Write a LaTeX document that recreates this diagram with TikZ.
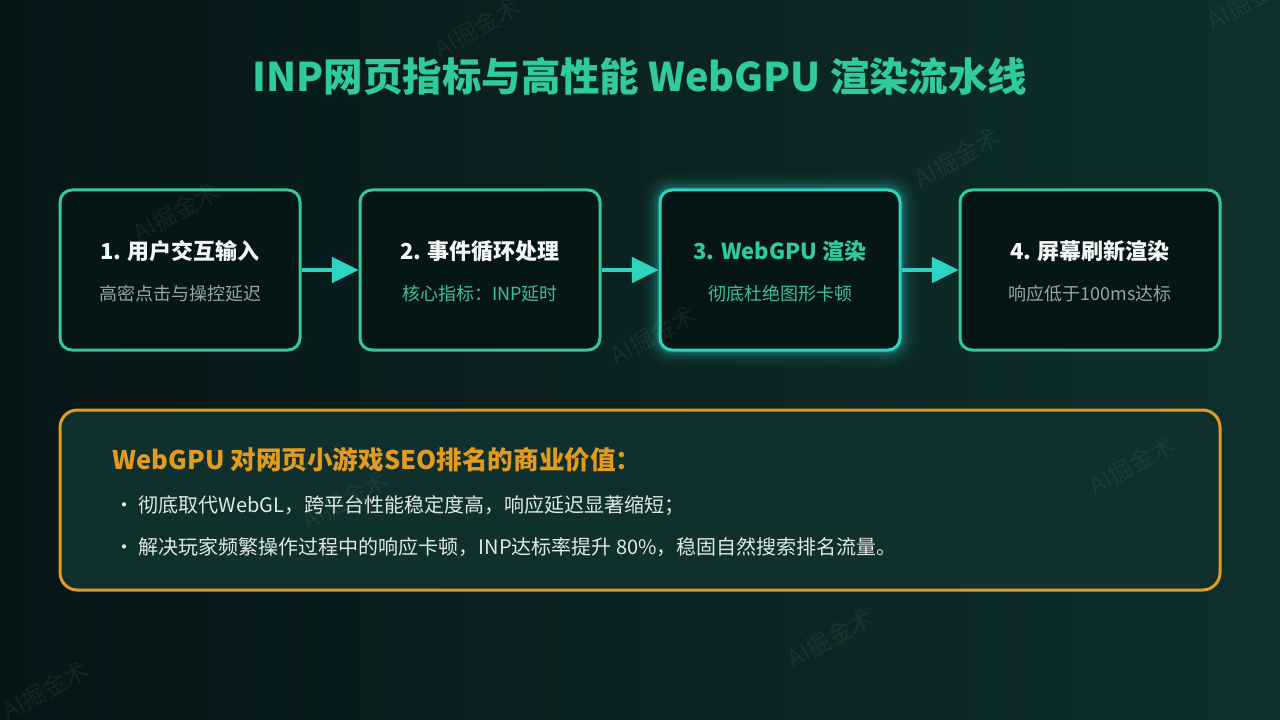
\documentclass[tikz,border=0pt]{standalone}
\usepackage{fontspec}
\setmainfont{Noto Sans CJK SC}
\usetikzlibrary{arrows.meta}
\definecolor{bgL}{HTML}{071517}
\definecolor{bgR}{HTML}{0E302D}
\definecolor{boxfill}{HTML}{061614}
\definecolor{cgreen}{HTML}{35C995}
\definecolor{cteal}{HTML}{2DD4BF}
\definecolor{corange}{HTML}{E39B1F}
\definecolor{cpanel}{HTML}{0F302D}
\definecolor{cgray}{HTML}{98A3A5}
\definecolor{ctext}{HTML}{E2E8E8}
\definecolor{ctitle}{HTML}{2FCB9C}
\definecolor{csubteal}{HTML}{3DBF9F}
\definecolor{cwhite}{HTML}{F2F6F6}
\begin{document}
\begin{tikzpicture}[x=0.75pt,y=-0.75pt,
  stagebox/.style={draw=cgreen, line width=2.25pt, fill=boxfill, rounded corners=9pt,
    minimum height=120pt, inner sep=0pt},
  hotbox/.style={stagebox, draw=cteal},
  headtxt/.style={text=cwhite, font=\bfseries\fontsize{16.5pt}{20pt}\selectfont},
  subtxt/.style={text=cgray, font=\fontsize{13.5pt}{16pt}\selectfont},
  flow/.style={draw=cteal, line width=3pt, -{Triangle[length=20pt,width=19pt]}},
  panel/.style={draw=corange, line width=2.25pt, fill=cpanel, rounded corners=13pt,
    minimum width=870pt, minimum height=135pt, inner sep=0pt},
  bullettxt/.style={text=ctext, anchor=west, font=\fontsize{15pt}{18pt}\selectfont},
  wmark/.style={text=white, opacity=0.06, rotate=29, font=\fontsize{18pt}{20pt}\selectfont}
]
\useasboundingbox (0,0) rectangle (1280,720);
\shade[left color=bgL, right color=bgR] (0,0) rectangle (1280,720);

% title
\node[text=ctitle, font=\bfseries\fontsize{29.6pt}{36pt}\selectfont] (title) at (640,76)
  {INP网页指标与高性能 WebGPU 渲染流水线};

% glow for box 3
\foreach \w/\o in {26/0.03,20/0.05,14/0.08,9/0.12,5/0.18}
  \draw[cteal, line width=\w pt, opacity=\o, rounded corners=9pt] (660,190) rectangle (900,350);

% stage boxes
\node[stagebox, minimum width=180pt] (b1) at (180,270) {};
\node[stagebox, minimum width=180pt] (b2) at (480,270) {};
\node[hotbox,   minimum width=180pt] (b3) at (780,270) {};
\node[stagebox, minimum width=195pt] (b4) at (1090,270) {};

\node[headtxt] (h1) at (180,251) {1. 用户交互输入};
\node[subtxt]  (s1) at (180,294) {高密点击与操控延迟};
\node[headtxt] (h2) at (480,251) {2. 事件循环处理};
\node[subtxt, text=csubteal] (s2) at (480,294) {核心指标：INP延时};
\node[headtxt, text=ctitle] (h3) at (780,251) {3. WebGPU 渲染};
\node[subtxt, text=csubteal] (s3) at (780,294) {彻底杜绝图形卡顿};
\node[headtxt] (h4) at (1090,251) {4. 屏幕刷新渲染};
\node[subtxt]  (s4) at (1090,294) {响应低于100ms达标};

\draw[flow] (b1.east) -- (b2.west);
\draw[flow] (b2.east) -- (b3.west);
\draw[flow] (b3.east) -- (b4.west);

% bottom panel
\node[panel] (p) at (640,500) {};
\node[anchor=west, text=corange, font=\bfseries\fontsize{19.2pt}{22pt}\selectfont] (ph) at (108,460)
  {WebGPU 对网页小游戏SEO排名的商业价值：};
\node[bullettxt] (l1) at (110,506) {・\hspace{3pt}彻底取代WebGL，跨平台性能稳定度高，响应延迟显著缩短；};
\node[bullettxt] (l2) at (110,547) {・\hspace{3pt}解决玩家频繁操作过程中的响应卡顿，INP达标率提升 80\%，稳固自然搜索排名流量。};

% watermarks
\node[wmark] (w1) at (477,28) {AI掘金术};
\node[wmark] (w2) at (957,158) {AI掘金术};
\node[wmark] (w3) at (176,212) {AI掘金术};
\node[wmark] (w4) at (653,335) {AI掘金术};
\node[wmark] (w5) at (1132,465) {AI掘金术};
\node[wmark] (w6) at (345,500) {AI掘金术};
\node[wmark] (w7) at (830,638) {AI掘金术};
\node[wmark] (w8) at (45,690) {AI掘金术};
\node[wmark] (w9) at (1250,0) {AI掘金术};
\end{tikzpicture}
\end{document}
